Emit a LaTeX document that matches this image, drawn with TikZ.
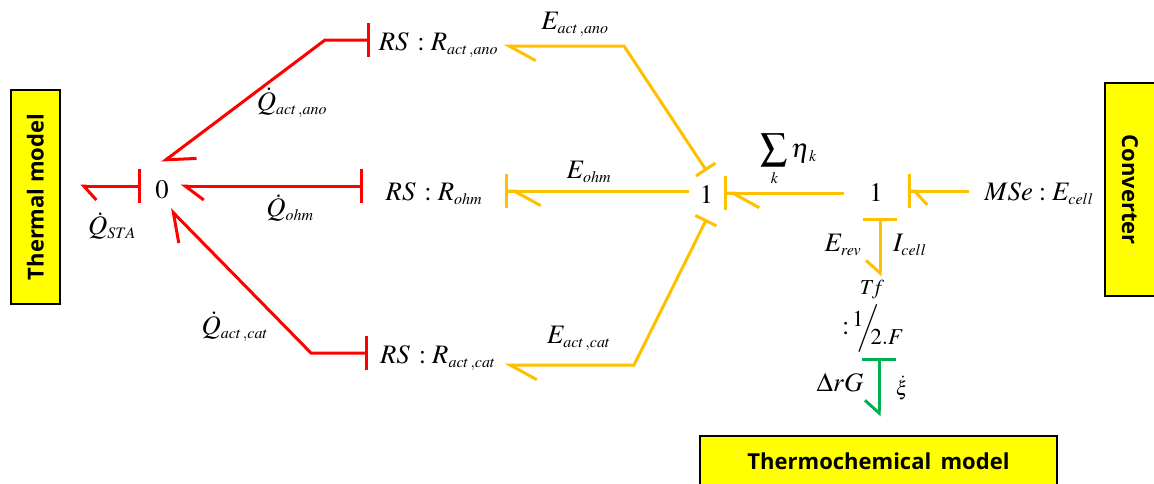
\documentclass[tikz,border=0pt]{standalone}
\usepackage{mathptmx}
\usepackage{amsmath}
\usepackage[no-math]{fontspec}
\setsansfont{Open Sans}
\usepackage{xcolor}
\usepackage{tikz}
\usetikzlibrary{arrows.meta,positioning,calc}
\DeclareMathSizes{20}{20}{12}{9}
\definecolor{bondred}{RGB}{255,0,0}
\definecolor{bondorange}{RGB}{255,192,0}
\definecolor{bondgreen}{RGB}{0,176,80}
\definecolor{modelyellow}{RGB}{255,255,0}
\tikzset{
 causal/.tip={Bar[width=25.5pt,line width=2.25pt]},
 causalsmall/.tip={Bar[width=17.5pt,line width=2.25pt]},
 barbshort/.tip={Straight Barb[harpoon,length=9.5pt,width=21pt,line width=2.25pt]},
 barbmid/.tip={Straight Barb[harpoon,length=14pt,width=21pt,line width=2.25pt]},
 barblong/.tip={Straight Barb[harpoon,length=20pt,width=22pt,line width=2.25pt]},
 barbwide/.tip={Straight Barb[harpoon,length=19pt,width=26pt,line width=2.25pt]},
 barbshortr/.tip={Straight Barb[harpoon,swap,length=9.5pt,width=21pt,line width=2.25pt]}
}
\begin{document}
\begin{tikzpicture}[x=0.75pt,y=-0.75pt,
 model/.style={draw=black,line width=1.5pt,fill=modelyellow,font=\sffamily\bfseries\fontsize{16.5}{18}\selectfont,inner sep=0pt},
 term/.style={inner sep=0pt,font=\fontsize{20}{22}\selectfont},
 redbond/.style={draw=bondred,line width=2.25pt},
 orangebond/.style={draw=bondorange,line width=2.25pt},
 greenbond/.style={draw=bondgreen,line width=2.25pt}
]
\useasboundingbox (0,0) rectangle (1154,483);
\node[model,rotate=90,minimum width=160.5pt,minimum height=36.75pt] (thermal) at (35.5,197) {Thermal model};
\node[model,rotate=-90,minimum width=160pt,minimum height=37.5pt] (converter) at (1130,189.5) {Converter};
\node[model,minimum width=267.75pt,minimum height=37.5pt] (thermochem) at (878.5,461) {Thermochemical\, model};
\node[term,minimum width=31.5pt,minimum height=34.5pt,text height=18pt,text depth=0pt] (zero) at (162,186) {$0$};
\node[term,minimum width=25.5pt,minimum height=30pt,text height=18pt,text depth=0pt] (oneL) at (706.5,191) {$1$};
\node[term,minimum width=48pt,minimum height=37.5pt,text height=12pt,text depth=0pt] (oneR) at (876,193) {$1$};
\node[term,minimum width=102.75pt,text height=15pt,text depth=0pt] (rsano) at (438.5,40) {$RS\,:R_{act\,,ano}$};
\node[term,minimum width=106.5pt,text height=21pt,text depth=0pt] (rsohm) at (434,186) {$RS\,:R_{ohm}$};
\node[term,minimum width=105pt,text height=15pt,text depth=0pt] (rscat) at (438,353) {$RS\,:R_{act\,,cat}$};
\node[term,anchor=west,inner xsep=11.25pt,text height=13.5pt,text depth=0pt] (mse) at (969,191) {$MSe:E_{cell}$};
\node[term,font=\fontsize{16}{18}\selectfont,text height=13pt,text depth=4pt] (tf) at (872,288) {$T\!f$};
\node[term,minimum height=45pt] (ratio) at (873,328) {${:}\,\raisebox{6pt}{\fontsize{17}{18}\selectfont$1$}\!\!\Big/\!\!\!\raisebox{-7pt}{\fontsize{17}{18}\selectfont$2.F$}$};
\coordinate (ra) at (325,40);
\coordinate (rc) at (311,353);
\coordinate (oa) at (624,46);
\coordinate (oc) at (634,365);
\draw[redbond,{causal}-{barbshort},shorten >=14.5pt] (zero.west) -- (zero.west -| thermal.south);
\draw[redbond,{causal}-{barbwide}] (rsano.west) -- (ra) -- (zero.north);
\draw[redbond,{causal}-{barbmid},shorten >=-2pt] (rsohm.west) -- (zero.east);
\draw[redbond,{causal}-{barbwide}] (rscat.west) -- (rc) -- ([xshift=6pt]zero.south);
\draw[orangebond,{causalsmall}-{barblong},shorten >=-3pt] (oneL.north) -- (oa) -- (oa -| rsano.east);
\draw[orangebond,-{barblong[sep=0pt] causal}] (oneL.west) -- (oneL.west -| rsohm.east);
\draw[orangebond,{causalsmall}-{barblong},shorten >=-3pt] ([yshift=-6pt]oneL.south) -- (oc) -- (oc -| rscat.east);
\draw[orangebond,-{barblong[sep=0pt] causal}] (oneR.west) -- (oneR.west -| oneL.east);
\draw[orangebond,-{barbshort[sep=0pt] causal}] (mse.west) -- (mse.west -| oneR.east);
\draw[orangebond,{causal}-{barbshortr}] ([xshift=3pt]oneR.south) -- ([xshift=3pt]oneR.south |- tf.north);
\draw[greenbond,{causal}-{barbshortr},shorten >=14pt] ([xshift=4.5pt]ratio.south) -- ([xshift=4.5pt]ratio.south |- thermochem.north);
\node[term] (qsta) at (112,226) {$\dot{Q}_{STA}$};
\node[term] (qano) at (292,103) {$\dot{Q}_{act\,,ano}$};
\node[term] (qohm) at (290,208) {$\dot{Q}_{ohm}$};
\node[term] (qcat) at (235,327) {$\dot{Q}_{act\,,cat}$};
\node[term] (eano) at (575,24) {$E_{act\,,ano}$};
\node[term] (eohm) at (589,172) {$E_{ohm}$};
\node[term] (ecat) at (579,338) {$E_{act\,,cat}$};
\node[term] (etak) at (789,160) {$\displaystyle\sum_{k}\eta_{\,k}$};
\node[term] (erev) at (843,245) {$E_{rev}$};
\node[term] (icell) at (910,245) {$I_{cell}$};
\node[term] (drg) at (840,383) {$\Delta rG$};
\node[term,font=\fontsize{15}{16}\selectfont] (xidot) at (902,388) {$\dot{\xi}$};
\end{tikzpicture}
\end{document}
